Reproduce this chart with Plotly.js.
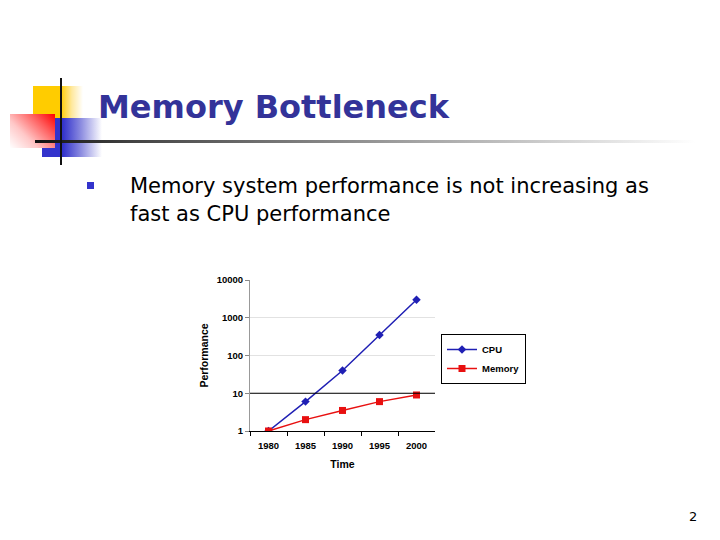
<!DOCTYPE html>
<html>
<head>
<meta charset="utf-8">
<script src="https://cdn.plot.ly/plotly-3.0.1.min.js"></script>
<style>
  html, body { margin: 0; padding: 0; background: #ffffff; }
  #slide { position: relative; width: 720px; height: 540px; overflow: hidden; background: #ffffff; }
  .deco { position: absolute; }
  #yellow { left: 33px; top: 86px; width: 50px; height: 32px;
    background: linear-gradient(to right, #ffcc00 0%, #ffcc00 55%, #ffe9a0 78%, #ffffff 100%); }
  #blue { left: 42px; top: 118px; width: 60px; height: 39px;
    background: linear-gradient(to right, #3333cc 0%, #3333cc 35%, #8c8ce0 65%, #ffffff 100%); }
  #red { left: 10px; top: 114px; width: 45px; height: 34px;
    background: linear-gradient(225deg, #ff0000 0%, #ff6060 30%, #ffc8c8 65%, #ffffff 100%); }
  #vline { left: 60px; top: 78px; width: 2px; height: 87px; background: #111111; }
  #hline { left: 35px; top: 140px; width: 660px; height: 3px;
    background: linear-gradient(to right, #111111 0%, #444444 15%, #888888 45%, #c8c8c8 75%, #ffffff 100%); }
  #chart { position: absolute; left: 0; top: 0; width: 720px; height: 540px; }
</style>
</head>
<body>
<div id="slide">
  <div class="deco" id="yellow"></div>
  <div class="deco" id="blue"></div>
  <div class="deco" id="red"></div>
  <div class="deco" id="hline"></div>
  <div class="deco" id="vline"></div>
  <div id="chart"></div>
</div>
<script>
// ---- data ----
const years = ['1980', '1985', '1990', '1995', '2000'];
const cpuPerf = [1, 6, 40, 350, 3000];
const memoryPerf = [1, 2, 3.5, 6, 9];
const yTickVals = [1, 10, 100, 1000, 10000];
const yTickText = ['1', '10', '100', '1000', '10000'];
const seriesNames = ['CPU', 'Memory'];
const slideTitle = 'Memory Bottleneck';
const bulletLines = ['Memory system performance is not increasing as', 'fast as CPU performance'];
const pageNumber = '2';

// ---- layout helpers (pixels -> paper) ----
const W = 720, H = 540;
const px = x => x / W;
const py = y => 1 - y / H;

const chartFont = 'Liberation Sans, Arial, sans-serif';
const slideFont = 'DejaVu Sans, Verdana, sans-serif';

const traces = [
  {
    x: years, y: cpuPerf, name: seriesNames[0], type: 'scatter', mode: 'lines+markers',
    line: { color: '#1f1fb4', width: 1.5 },
    marker: { symbol: 'diamond', size: 6.5, color: '#1f1fb4' }
  },
  {
    x: years, y: memoryPerf, name: seriesNames[1], type: 'scatter', mode: 'lines+markers',
    line: { color: '#e81010', width: 1.5 },
    marker: { symbol: 'square', size: 7, color: '#e81010' }
  }
];

const layout = {
  width: W, height: H,
  margin: { l: 0, r: 0, t: 0, b: 0, pad: 0, autoexpand: false },
  paper_bgcolor: 'rgba(0,0,0,0)',
  plot_bgcolor: 'rgba(0,0,0,0)',
  showlegend: true,
  xaxis: {
    type: 'category', domain: [px(250), px(435)], range: [-0.5, 4.5],
    tickson: 'boundaries', ticks: 'outside', ticklen: 4, tickcolor: '#000000',
    ticklabelstandoff: 6,
    showline: true, linecolor: '#000000', linewidth: 1,
    showgrid: false, zeroline: false, automargin: true,
    tickfont: { family: chartFont, size: 9.5, weight: 'bold', color: '#000000' },
    title: { text: 'Time', standoff: 10, font: { family: chartFont, size: 10.5, weight: 'bold', color: '#000000' } }
  },
  yaxis: {
    type: 'log', domain: [py(431), py(280)], range: [0, 4],
    tickvals: yTickVals, ticktext: yTickText,
    ticks: 'outside', ticklen: 4, tickcolor: '#888888',
    showline: true, linecolor: '#999999', linewidth: 1,
    showgrid: true, gridcolor: '#e2e2e2', gridwidth: 1,
    zeroline: false, automargin: true,
    tickfont: { family: chartFont, size: 9.5, weight: 'bold', color: '#000000' },
    title: { text: 'Performance', standoff: 6, font: { family: chartFont, size: 10.5, weight: 'bold', color: '#000000' } }
  },
  legend: {
    x: px(441), y: py(334), xanchor: 'left', yanchor: 'top',
    bordercolor: '#000000', borderwidth: 1, bgcolor: '#ffffff',
    font: { family: chartFont, size: 9.5, weight: 'bold', color: '#000000' },
    itemwidth: 30, tracegroupgap: 0
  },
  shapes: [
    { type: 'line', xref: 'x domain', yref: 'y domain', x0: 0, x1: 1, y0: 0.25, y1: 0.25,
      line: { color: '#000000', width: 1 } },
    { type: 'rect', xref: 'paper', yref: 'paper', x0: px(87), x1: px(94), y0: py(189), y1: py(182),
      fillcolor: '#3333cc', line: { width: 0 } }
  ],
  annotations: [
    { text: slideTitle, xref: 'paper', yref: 'paper', x: px(96), y: py(107),
      xanchor: 'left', yanchor: 'middle', showarrow: false,
      font: { family: slideFont, size: 32, weight: 'bold', color: '#333399' } },
    { text: bulletLines[0], xref: 'paper', yref: 'paper', x: px(128), y: py(186),
      xanchor: 'left', yanchor: 'middle', showarrow: false,
      font: { family: slideFont, size: 21, color: '#000000' } },
    { text: bulletLines[1], xref: 'paper', yref: 'paper', x: px(128), y: py(214),
      xanchor: 'left', yanchor: 'middle', showarrow: false,
      font: { family: slideFont, size: 21, color: '#000000' } },
    { text: pageNumber, xref: 'paper', yref: 'paper', x: px(693), y: py(516),
      xanchor: 'center', yanchor: 'middle', showarrow: false,
      font: { family: slideFont, size: 13, color: '#000000' } }
  ]
};

Plotly.newPlot('chart', traces, layout, { displayModeBar: false, staticPlot: true });
</script>
</body>
</html>
